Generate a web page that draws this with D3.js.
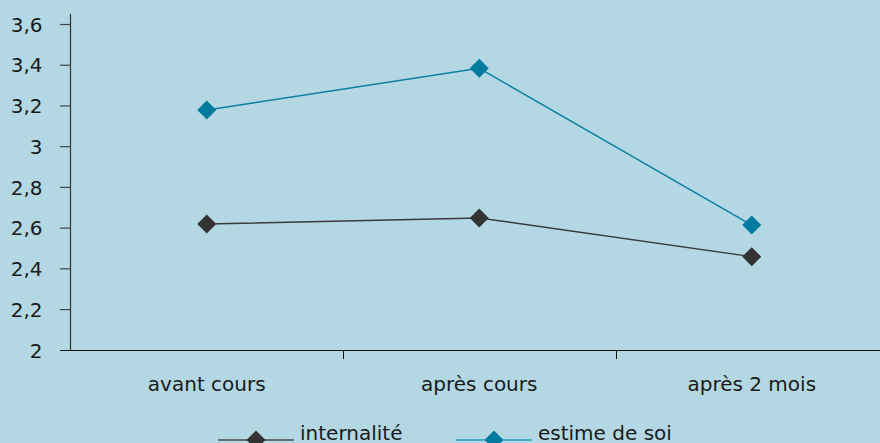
<!DOCTYPE html>
<html>
<head>
<meta charset="utf-8">
<script src="https://cdn.jsdelivr.net/npm/d3@7"></script>
<style>
  html, body { margin: 0; padding: 0; background: #b3d8e3; }
  svg { display: block; }
  text { font-family: "DejaVu Sans", sans-serif; fill: #1a1a1a; }
</style>
</head>
<body>
<svg id="chart" width="880" height="443"></svg>
<script>
// Mean scores per measurement moment
const categories = ["avant cours", "après cours", "après 2 mois"];
const internalite = [2.62, 2.65, 2.46];
const estimeDeSoi = [3.18, 3.385, 2.615];
const yTicks = [2, 2.2, 2.4, 2.6, 2.8, 3, 3.2, 3.4, 3.6];
const seriesNames = ["internalité", "estime de soi"];

const series = [
  { name: seriesNames[0], values: internalite, line: "#3a3a3a", marker: "#333333", legendLine: "#4a4a4a" },
  { name: seriesNames[1], values: estimeDeSoi, line: "#0a7fa3", marker: "#007a9e", legendLine: "#2a9cc2" }
];

const svg = d3.select("#chart");
const W = 880, H = 443;
const fontSize = 20;

const x = d3.scaleBand().domain(categories).range([70.5, 888]);
const y = d3.scaleLinear().domain([2, 3.6]).range([350.3, 24.5]);
const fmt = d => String(d).replace(".", ",");

// Y axis
const yAxis = svg.append("g");
yAxis.append("line")
  .attr("x1", 70.5).attr("x2", 70.5).attr("y1", 14).attr("y2", 351)
  .attr("stroke", "#333").attr("stroke-width", 1.2);
yAxis.selectAll("line.tick").data(yTicks.slice(1)).join("line")
  .attr("class", "tick")
  .attr("x1", 60).attr("x2", 70.5)
  .attr("y1", d => y(d)).attr("y2", d => y(d))
  .attr("stroke", "#444").attr("stroke-width", 1.2);
yAxis.selectAll("text").data(yTicks).join("text")
  .attr("x", 42.5).attr("y", d => y(d))
  .attr("dy", "0.36em")
  .attr("text-anchor", "end")
  .attr("font-size", fontSize)
  .text(fmt);

// X axis
const xAxis = svg.append("g");
xAxis.append("line")
  .attr("x1", 60).attr("x2", W).attr("y1", 350.5).attr("y2", 350.5)
  .attr("stroke", "#111").attr("stroke-width", 1.2);
xAxis.selectAll("line.tick").data(categories.slice(1)).join("line")
  .attr("class", "tick")
  .attr("x1", d => Math.round(x(d)) + 0.5).attr("x2", d => Math.round(x(d)) + 0.5)
  .attr("y1", 350.5).attr("y2", 359)
  .attr("stroke", "#111").attr("stroke-width", 1);
xAxis.selectAll("text").data(categories).join("text")
  .attr("x", d => x(d) + x.bandwidth() / 2)
  .attr("y", 391)
  .attr("text-anchor", "middle")
  .attr("font-size", fontSize)
  .text(d => d);

const diamond = d3.symbol().type(d3.symbolDiamond2).size(230);

// Lines and markers
const line = d3.line()
  .x((d, i) => x(categories[i]) + x.bandwidth() / 2)
  .y(d => y(d));

series.forEach(s => {
  const g = svg.append("g");
  g.append("path")
    .attr("d", line(s.values))
    .attr("fill", "none")
    .attr("stroke", s.line)
    .attr("stroke-width", 1.4);
  g.selectAll("path.m").data(s.values).join("path")
    .attr("class", "m")
    .attr("d", diamond)
    .attr("transform", (d, i) => `translate(${x(categories[i]) + x.bandwidth() / 2},${y(d)})`)
    .attr("fill", s.marker);
});

// Legend
const legendX = [218, 456];
const legendY = 440;
series.forEach((s, i) => {
  const g = svg.append("g").attr("transform", `translate(${legendX[i]},${legendY})`);
  g.append("line").attr("x1", 0).attr("x2", 76).attr("y1", 0).attr("y2", 0)
    .attr("stroke", s.legendLine).attr("stroke-width", 1.4);
  g.append("path").attr("d", diamond).attr("transform", "translate(38,0)").attr("fill", s.marker);
  g.append("text").attr("x", 82).attr("y", 0)
    .attr("font-size", fontSize).text(s.name);
});
</script>
</body>
</html>
